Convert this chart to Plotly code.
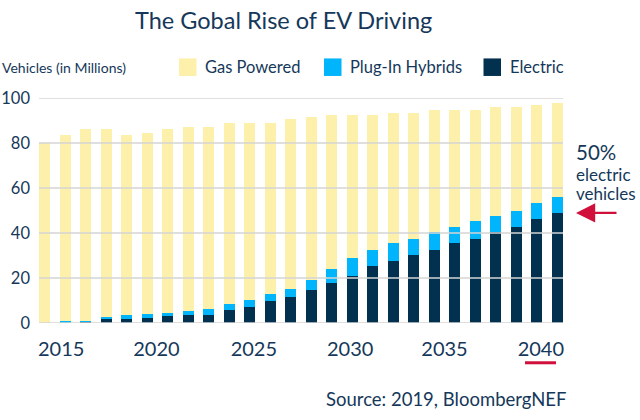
import plotly.graph_objects as go

years = list(range(2015, 2041))
totals = [80.0, 83.7, 86.3, 86.3, 83.7, 84.6, 86.3, 87.2, 87.2, 88.7, 89.0, 89.0, 90.8,
          91.7, 92.6, 92.6, 92.6, 93.5, 93.5, 94.7, 94.7, 94.7, 96.1, 96.1, 97.0, 97.9]
electric = [0.0, 0.0, 0.8, 1.6, 1.6, 2.4, 3.0, 3.7, 3.7, 5.9, 7.3, 9.6, 11.7,
            14.7, 17.8, 20.9, 25.4, 27.6, 30.3, 32.3, 35.5, 37.2, 40.4, 42.7, 46.1, 48.8]
hybrid_top = [0.0, 1.1, 1.0, 2.7, 3.4, 3.9, 4.3, 5.2, 6.1, 8.6, 10.4, 12.8, 15.3,
              19.0, 24.0, 29.1, 32.3, 35.5, 37.2, 40.4, 42.7, 45.3, 47.5, 49.7, 53.3, 55.9]
hybrid = [round(h - e, 2) for h, e in zip(hybrid_top, electric)]
gas = [round(t - h, 2) for t, h in zip(totals, hybrid_top)]

tick_labels = ["2015", "2020", "2025", "2030", "2035", "2040"]
tick_positions = [2015.8, 2020.45, 2025.2, 2029.9, 2034.5, 2039.2]
y_ticks = [0, 20, 40, 60, 80, 100]

C_GAS = "#FDF0AA"
C_HYB = "#00B5FC"
C_ELE = "#02314F"
C_TXT = "#15385A"
C_RED = "#D0103A"
FONT = "Lato"

# plot-area pixel frame
PX0, PX1, PY0, PY1 = 39, 563, 322.6, 98.0
def px(x):
    return (x - PX0) / (PX1 - PX0)
def py(y):
    return (PY0 - y) / (PY0 - PY1)

fig = go.Figure()
for name, vals, col in [("Electric", electric, C_ELE),
                        ("Plug-In Hybrids", hybrid, C_HYB),
                        ("Gas Powered", gas, C_GAS)]:
    fig.add_trace(go.Bar(x=years, y=vals, name=name, marker_color=col,
                         marker_line_width=0, width=0.52, showlegend=False))

shapes = []
for v in y_ticks:
    shapes.append(dict(type="line", xref="paper", yref="y", x0=0, x1=1, y0=v, y1=v,
                       line=dict(color="#D4D4D4", width=1.6), layer="above"))

# manual legend
legend_items = [("Gas Powered", C_GAS, 179, 203), ("Plug-In Hybrids", C_HYB, 324, 348),
                ("Electric", C_ELE, 483.5, 508)]
annotations = []
for name, col, sx, tx in legend_items:
    shapes.append(dict(type="rect", xref="paper", yref="paper", x0=px(sx), x1=px(sx + 17.5),
                       y0=py(76), y1=py(58.5), fillcolor=col, line_width=0))
    annotations.append(dict(text=name, xref="paper", yref="paper", x=px(tx), y=py(67.5),
                            xanchor="left", yanchor="middle", showarrow=False,
                            font=dict(family=FONT, size=16.5, color=C_TXT)))
annotations.append(dict(text="Vehicles (in Millions)", xref="paper", yref="paper", x=px(0),
                        y=py(68), xanchor="left", yanchor="middle", showarrow=False,
                        font=dict(family=FONT, size=14, color=C_TXT)))
# title
annotations.append(dict(text="The Gobal Rise of EV Driving", xref="paper", yref="paper",
                        x=px(283.5), y=py(20), xanchor="center", yanchor="middle",
                        showarrow=False, font=dict(family=FONT, size=23.5, color=C_TXT)))
# source
annotations.append(dict(text="Source: 2019, BloombergNEF", xref="paper", yref="paper",
                        x=px(568), y=py(398), xanchor="right", yanchor="middle",
                        showarrow=False, font=dict(family=FONT, size=18.5, color=C_TXT)))
# 50% callout
annotations.append(dict(text="50%", xref="paper", yref="paper", x=px(574), y=py(152),
                        xanchor="left", yanchor="middle", showarrow=False,
                        font=dict(family=FONT, size=20.5, color=C_TXT)))
annotations.append(dict(text="electric", xref="paper", yref="paper", x=px(574),
                        y=py(174), xanchor="left", yanchor="middle", showarrow=False,
                        font=dict(family=FONT, size=17, color=C_TXT)))
annotations.append(dict(text="vehicles", xref="paper", yref="paper", x=px(574),
                        y=py(193.5), xanchor="left", yanchor="middle", showarrow=False,
                        font=dict(family=FONT, size=17, color=C_TXT)))
annotations.append(dict(text="", xref="paper", yref="paper", x=px(576), y=py(212.7),
                        ax=42, ay=0, showarrow=True, arrowhead=2, arrowsize=1.6,
                        arrowwidth=2.4, arrowcolor=C_RED))
# underline under 2040
shapes.append(dict(type="line", xref="paper", yref="paper", x0=px(525), x1=px(556),
                   y0=py(362.3), y1=py(362.3), line=dict(color=C_RED, width=3)))

fig.update_layout(
    width=640, height=420,
    margin=dict(l=PX0, r=640 - PX1, t=PY1, b=420 - PY0, autoexpand=False),
    barmode="stack", bargap=0.48,
    plot_bgcolor="white", paper_bgcolor="white",
    font=dict(family=FONT, color=C_TXT),
    shapes=shapes, annotations=annotations,
    xaxis=dict(range=[2014.72, 2040.28], tickvals=tick_positions, ticktext=tick_labels,
               showgrid=False, zeroline=False, showline=False, ticks="", automargin=False,
               ticklabelstandoff=12, tickfont=dict(family=FONT, size=20, color=C_TXT)),
    yaxis=dict(range=[0, 100], tickvals=y_ticks, showgrid=False, zeroline=False,
               showline=False, ticks="", ticklabelstandoff=8, automargin=False,
               tickfont=dict(family=FONT, size=16.5, color=C_TXT)),
)

fig.write_html("out.html")
